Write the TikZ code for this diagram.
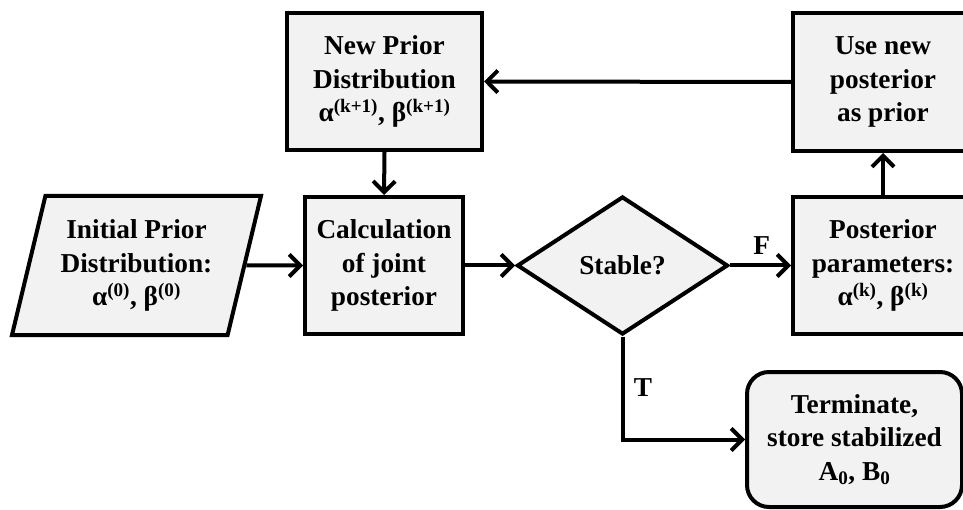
\documentclass[tikz,border=0pt]{standalone}
\usepackage{fontspec}
\setmainfont{Liberation Serif}
\usetikzlibrary{arrows.meta,shapes.geometric}

\definecolor{boxfill}{HTML}{F2F2F2}

\tikzset{
  flow/.style={line width=4pt, draw=black, fill=boxfill, inner sep=0pt,
    align=center, font=\fontsize{27.3}{33.5}\selectfont\bfseries},
  procbox/.style={flow, rectangle, minimum width=#1, minimum height=137pt},
  procbox/.default=176pt,
  iobox/.style={flow, trapezium, trapezium left angle=70, trapezium right angle=110,
    trapezium stretches body=true, minimum width=249pt, minimum height=139pt},
  decision/.style={flow, diamond, minimum width=211pt, minimum height=138pt},
  endbox/.style={flow, rectangle, rounded corners=22pt, minimum width=215pt, minimum height=135pt},
  link/.style={line width=4pt, draw=black, -{Straight Barb[length=11pt,width=22pt,line width=4pt]}},
  branch/.style={font=\fontsize{27.3}{33.5}\selectfont\bfseries, inner sep=0pt}
}

\begin{document}
\begin{tikzpicture}[x=1pt,y=-1pt]
  \clip (0,0) rectangle (963,510);
  \fill[white] (0,0) rectangle (963,510);

  % process steps
  \node[iobox] (init) at (136.5,265.5) {Initial Prior\\Distribution:\\α\textsuperscript{(0)}, β\textsuperscript{(0)}};
  \node[procbox=158pt] (calc) at (384,265.5) {Calculation\\of joint\\posterior};
  \node[decision] (stable) at (622.5,265.5) {Stable?};
  \node[procbox=180pt] (post) at (883,265.5) {Posterior\\parameters:\\α\textsuperscript{(k)}, β\textsuperscript{(k)}};
  \node[procbox=180pt, minimum height=138pt] (usenew) at (883,82) {Use new\\posterior\\as prior};
  \node[procbox=195pt] (newprior) at (384.5,81.5) {New Prior\\Distribution\\α\textsuperscript{(k+1)}, β\textsuperscript{(k+1)}};
  \node[endbox] (term) at (854.5,439.5) {Terminate,\\store stabilized\\A\textsubscript{0}, B\textsubscript{0}};

  % connectors
  \draw[link] (init.east) -- (calc.west);
  \draw[link] (newprior.south) -- (calc.north);
  \draw[link] (calc.east) -- (stable.west);
  \draw[link] (stable.east) -- node[branch, above=9pt, pos=0.52] (flab) {F} (post.west);
  \draw[link] (post.north) -- (usenew.south);
  \draw[link] (usenew.west) -- (newprior.east);
  \coordinate (bend) at (stable.south |- term.west);
  \draw[link] (stable.south) -- (bend) -- (term.west);
  \node[branch] (tlab) at (643,388) {T};
\end{tikzpicture}
\end{document}
